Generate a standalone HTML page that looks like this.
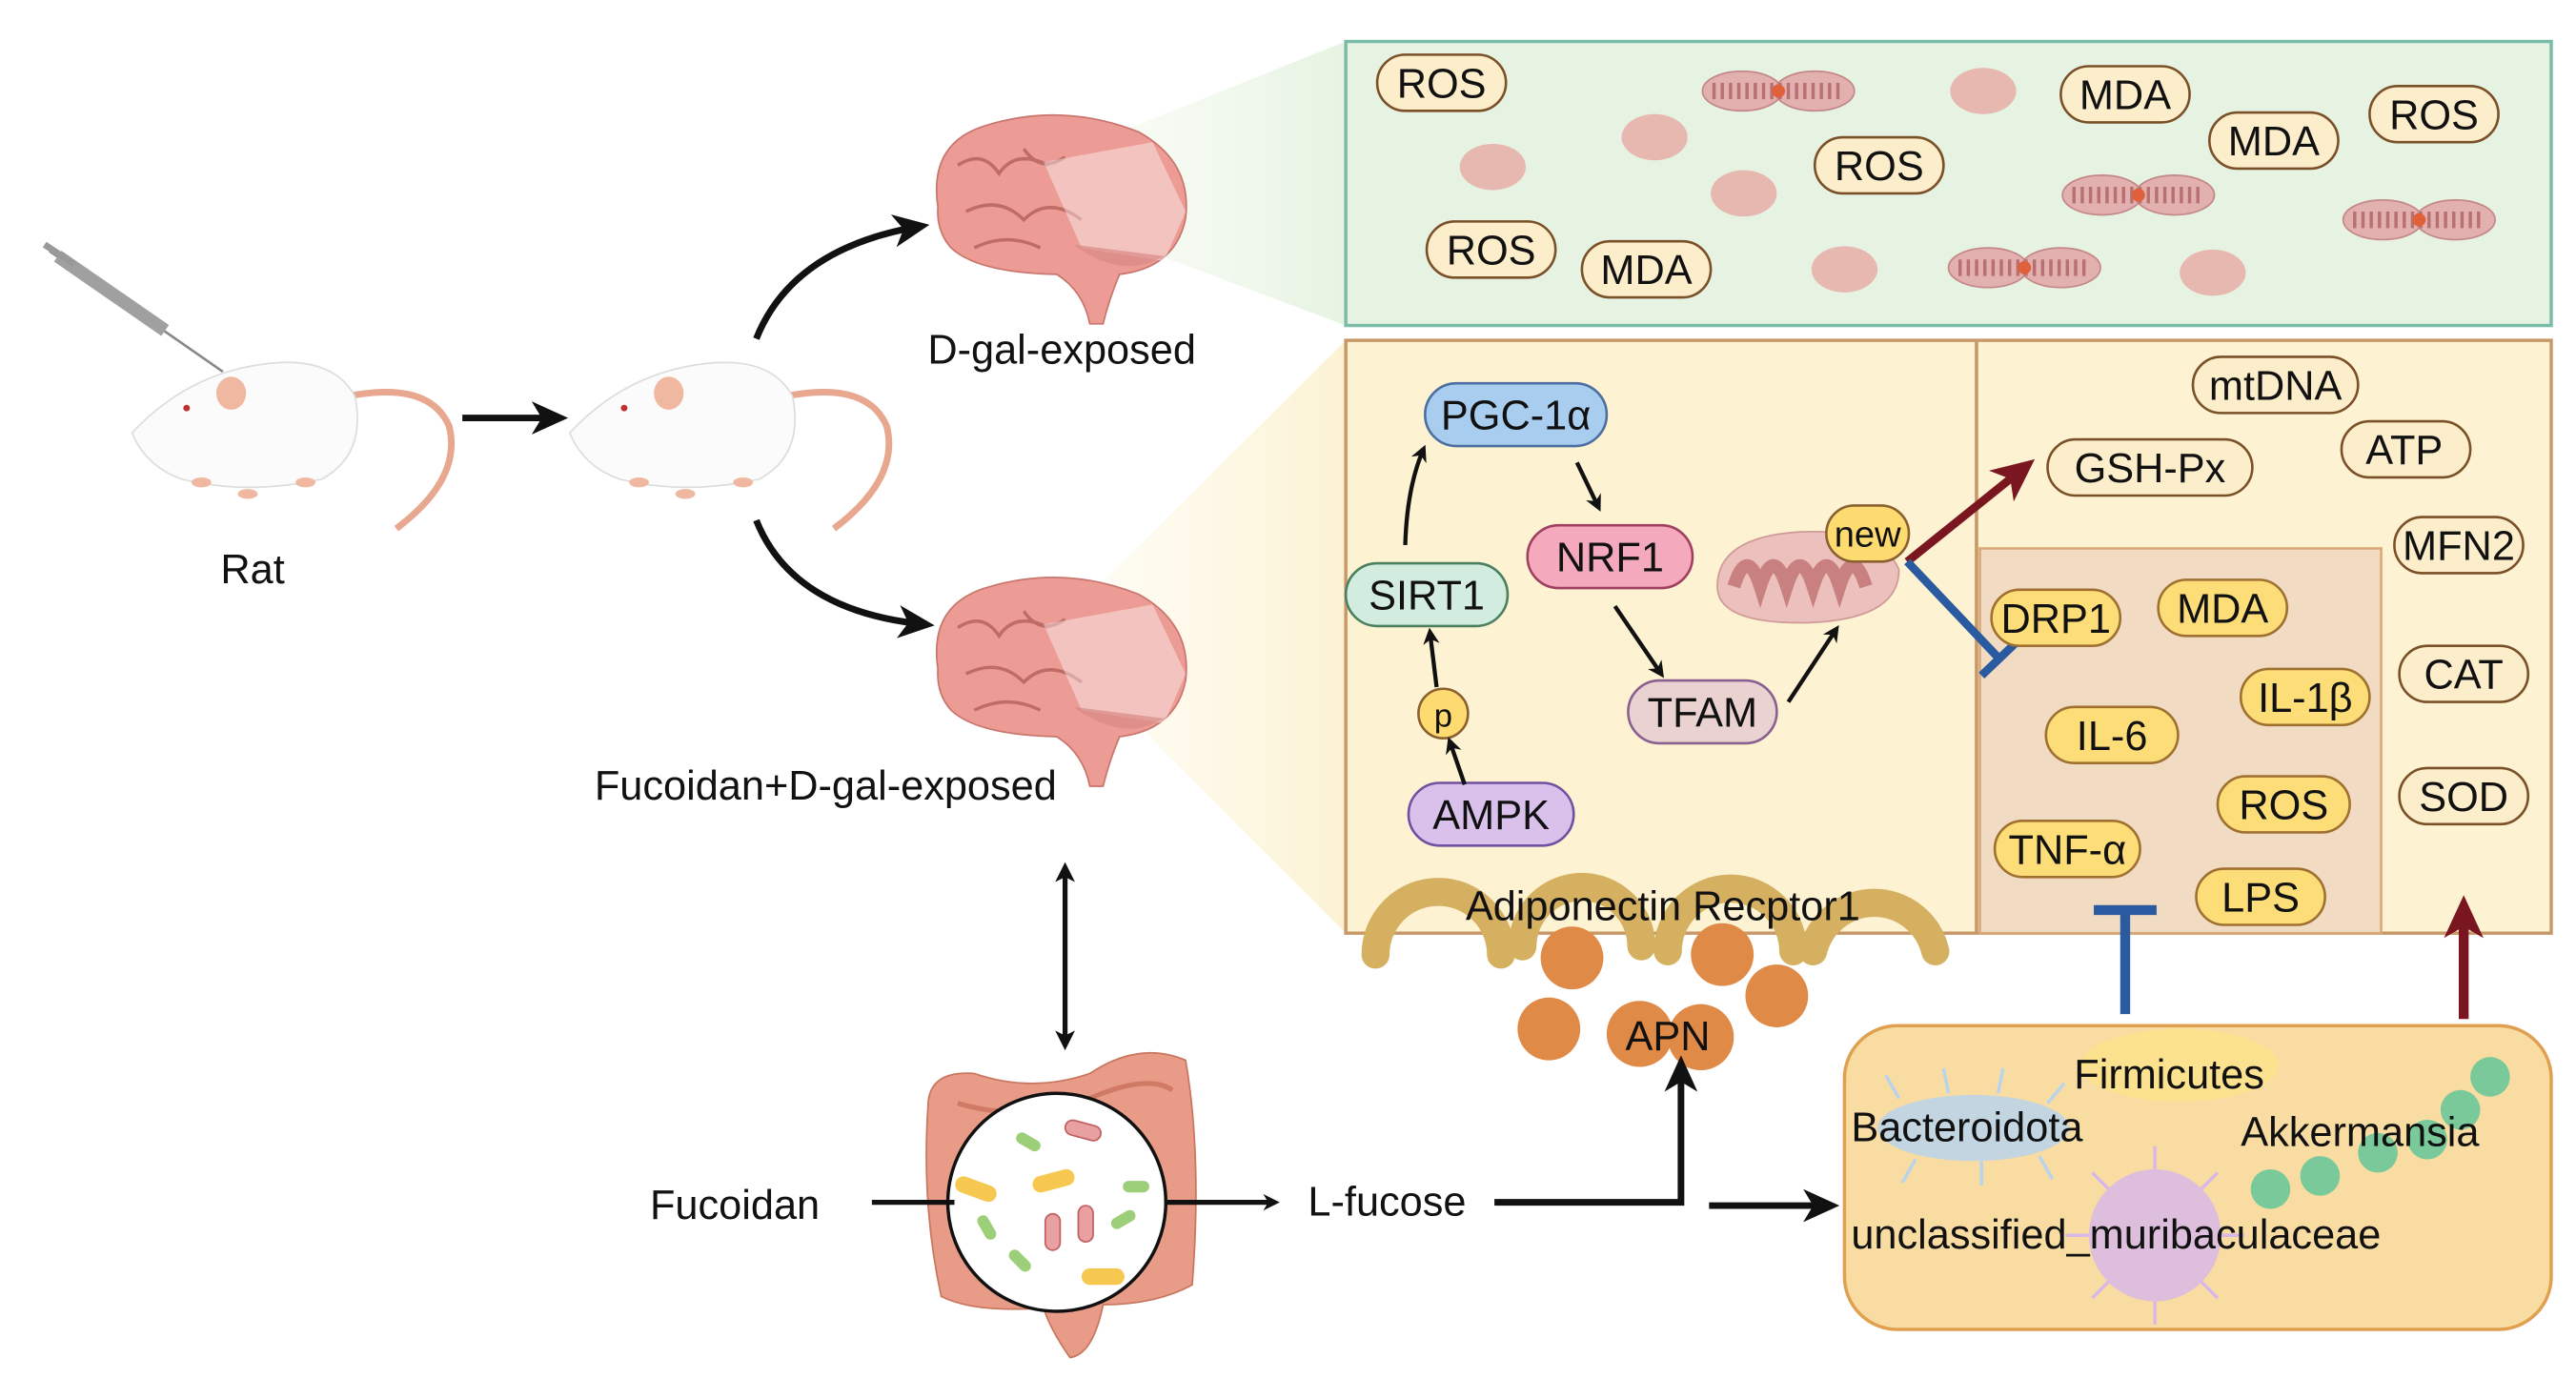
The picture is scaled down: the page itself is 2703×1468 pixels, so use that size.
<!DOCTYPE html>
<html><head><meta charset="utf-8"><style>
html,body{margin:0;padding:0;background:#fff}
svg{display:block}
text{font-family:"Liberation Sans",sans-serif;fill:#111}
</style></head><body>
<svg width="2703" height="1468" viewBox="0 0 1560 847" xmlns="http://www.w3.org/2000/svg">
<defs>
<marker id="ab" markerWidth="10" markerHeight="10" refX="7" refY="5" orient="auto" markerUnits="userSpaceOnUse"><path d="M0,0 L10,5 L0,10 L3,5 z" fill="#111"/></marker>
<marker id="abs" markerWidth="12" markerHeight="12" refX="6" refY="6" orient="auto-start-reverse" markerUnits="userSpaceOnUse"><path d="M0,0 L12,6 L0,12 L3,6 z" fill="#111"/></marker>
<marker id="abig" markerWidth="22" markerHeight="20" refX="16" refY="10" orient="auto" markerUnits="userSpaceOnUse"><path d="M0,0 L22,10 L0,20 L6,10 z" fill="#111"/></marker>
<marker id="ar" markerWidth="26" markerHeight="24" refX="18" refY="12" orient="auto" markerUnits="userSpaceOnUse"><path d="M0,0 L26,12 L0,24 L7,12 z" fill="#7a1620"/></marker>
<linearGradient id="gg" x1="0" x2="1"><stop offset="0" stop-color="#f3f9ec" stop-opacity="0.3"/><stop offset="1" stop-color="#e6f3e2"/></linearGradient>
<linearGradient id="gy" x1="0" x2="1"><stop offset="0" stop-color="#fdf8e6" stop-opacity="0.3"/><stop offset="1" stop-color="#fcf2d2"/></linearGradient>
<g id="mito"><ellipse cx="0" cy="0" rx="20" ry="14" fill="#e6b8b0"/></g>
<g id="mito2"><ellipse cx="-22" cy="0" rx="24" ry="12" fill="#e3b0b0" stroke="#c48888"/><ellipse cx="22" cy="0" rx="24" ry="12" fill="#e3b0b0" stroke="#c48888"/><path d="M-40,0 h80" stroke="#b87070" stroke-width="10" stroke-dasharray="2 3"/><circle cx="0" cy="0" r="4" fill="#e0603a"/></g>
</defs>

<polygon points="640,95 815,25 815,197 690,150" fill="url(#gg)"/>
<polygon points="640,380 815,206 815,565 700,450" fill="url(#gy)"/>

<rect x="815" y="25" width="730" height="172" fill="#e6f3e3" stroke="#79bca8" stroke-width="2"/>
<rect x="815" y="206" width="382" height="359" fill="#fdf2d2" stroke="#c89868" stroke-width="2"/>
<rect x="1197" y="206" width="348" height="359" fill="#fdf2d2" stroke="#c89868" stroke-width="2"/>
<rect x="1199" y="332" width="243" height="233" fill="#f1dcc3" stroke="#d9a878" stroke-width="1.5"/>
<rect x="1117" y="621" width="428" height="184" rx="32" fill="#f8dca2" stroke="#e0a050" stroke-width="2"/>

<use href="#mito" x="904" y="101"/><use href="#mito" x="1002" y="83"/><use href="#mito" x="1056" y="117"/>
<use href="#mito" x="1201" y="55"/><use href="#mito" x="1117" y="163"/><use href="#mito" x="1340" y="165"/>
<use href="#mito2" x="1077" y="55"/><use href="#mito2" x="1295" y="118"/><use href="#mito2" x="1226" y="162"/><use href="#mito2" x="1465" y="133"/>

<g stroke="#7a5028" stroke-width="1.5" fill="#fdeecb">
<rect x="834" y="33" width="78" height="34" rx="17"/>
<rect x="1248" y="40" width="78" height="34" rx="17"/>
<rect x="1338" y="68" width="78" height="34" rx="17"/>
<rect x="1435" y="52" width="78" height="34" rx="17"/>
<rect x="1099" y="83" width="78" height="34" rx="17"/>
<rect x="864" y="134" width="78" height="34" rx="17"/>
<rect x="958" y="146" width="78" height="34" rx="17"/>
</g>
<g font-size="25" text-anchor="middle">
<text x="873" y="59">ROS</text><text x="1287" y="66">MDA</text><text x="1377" y="94">MDA</text>
<text x="1474" y="78">ROS</text><text x="1138" y="109">ROS</text><text x="903" y="160">ROS</text><text x="997" y="172">MDA</text>
</g>

<rect x="863" y="232" width="110" height="38" rx="19" fill="#a9cdee" stroke="#4a6fa0" stroke-width="1.5"/>
<rect x="925" y="318" width="100" height="38" rx="19" fill="#f4a9bd" stroke="#a04060" stroke-width="1.5"/>
<rect x="815" y="341" width="98" height="38" rx="19" fill="#d2ece0" stroke="#4a8060" stroke-width="1.5"/>
<rect x="986" y="412" width="90" height="38" rx="19" fill="#ead2d0" stroke="#8a6090" stroke-width="1.5"/>
<rect x="853" y="474" width="100" height="38" rx="19" fill="#d9c1ec" stroke="#7050a0" stroke-width="1.5"/>
<circle cx="874" cy="432" r="15" fill="#fddb70" stroke="#8a6030" stroke-width="1.5"/>
<g font-size="25" text-anchor="middle">
<text x="918" y="260">PGC-1α</text><text x="975" y="346">NRF1</text><text x="864" y="369">SIRT1</text>
<text x="1031" y="440">TFAM</text><text x="903" y="502">AMPK</text><text x="874" y="440" font-size="20">p</text>
</g>
<g stroke="#111" stroke-width="2.5" fill="none" marker-end="url(#ab)">
<path d="M851,330 Q852,295 862,272"/>
<path d="M955,280 L968,307"/>
<path d="M978,367 L1006,408"/>
<path d="M1083,425 L1112,381"/>
<path d="M887,475 L878,449"/>
<path d="M870,416 L866,383"/>
</g>
<path d="M1040,355 Q1040,325 1090,322 Q1140,320 1150,345 Q1150,375 1095,377 Q1040,378 1040,355 z" fill="#ecc0bc" stroke="#d09a98"/>
<path d="M1050,355 q8,-25 16,0 q8,-25 16,0 q8,-25 16,0 q8,-25 16,0 q8,-25 16,0" stroke="#c88080" stroke-width="8" fill="none"/>
<rect x="1106" y="306" width="50" height="34" rx="17" fill="#fddb70" stroke="#8a6030" stroke-width="1.5"/>
<text x="1131" y="331" font-size="22" text-anchor="middle">new</text>
<path d="M1155,340 L1226,283" stroke="#7a1620" stroke-width="5" marker-end="url(#ar)"/>
<path d="M1155,340 L1210,398" stroke="#2a5aa0" stroke-width="5"/>
<path d="M1200,409 L1222,388" stroke="#2a5aa0" stroke-width="5"/>

<g stroke="#7a5028" stroke-width="1.5" fill="#fdeecb">
<rect x="1328" y="216" width="100" height="34" rx="17"/>
<rect x="1240" y="266" width="124" height="34" rx="17"/>
<rect x="1418" y="255" width="78" height="34" rx="17"/>
<rect x="1450" y="313" width="78" height="34" rx="17"/>
<rect x="1453" y="391" width="78" height="34" rx="17"/>
<rect x="1453" y="465" width="78" height="34" rx="17"/>
</g>
<g stroke="#a07030" stroke-width="1.5" fill="#fddd78">
<rect x="1206" y="357" width="78" height="34" rx="17"/>
<rect x="1307" y="351" width="78" height="34" rx="17"/>
<rect x="1357" y="405" width="78" height="34" rx="17"/>
<rect x="1239" y="428" width="80" height="34" rx="17"/>
<rect x="1343" y="470" width="80" height="34" rx="17"/>
<rect x="1208" y="497" width="88" height="34" rx="17"/>
<rect x="1330" y="526" width="78" height="34" rx="17"/>
</g>
<g font-size="25" text-anchor="middle">
<text x="1378" y="242">mtDNA</text><text x="1302" y="292">GSH-Px</text><text x="1456" y="281">ATP</text>
<text x="1489" y="339">MFN2</text><text x="1492" y="417">CAT</text><text x="1492" y="491">SOD</text>
<text x="1245" y="383">DRP1</text><text x="1346" y="377">MDA</text><text x="1396" y="431">IL-1β</text>
<text x="1279" y="454">IL-6</text><text x="1383" y="496">ROS</text><text x="1252" y="523">TNF-α</text><text x="1369" y="552">LPS</text>
</g>

<g stroke="#d4b060" stroke-width="17" fill="none" stroke-linecap="round">
<path d="M833,578 A38,38 0 0 1 909,578"/>
<path d="M922,573 A36,36 0 0 1 994,573"/>
<path d="M1010,576 A38,38 0 0 1 1086,576"/>
<path d="M1098,576 A38,38 0 0 1 1172,576"/>
</g>
<g fill="#e08a48">
<circle cx="952" cy="580" r="19"/><circle cx="1043" cy="578" r="19"/><circle cx="1076" cy="603" r="19"/>
<circle cx="938" cy="623" r="19"/><circle cx="993" cy="626" r="20"/><circle cx="1030" cy="628" r="20"/>
</g>
<text x="1007" y="557" font-size="25" text-anchor="middle">Adiponectin  Recptor1</text>
<text x="1010" y="636" font-size="25" text-anchor="middle">APN</text>

<path d="M1287,614 L1287,552 M1268,551 L1306,551" stroke="#2a5aa0" stroke-width="6"/>
<path d="M1492,617 L1492,550" stroke="#7a1620" stroke-width="6" marker-end="url(#ar)"/>

<ellipse cx="1320" cy="645" rx="60" ry="22" fill="#fde48a" opacity="0.8"/>
<ellipse cx="1195" cy="683" rx="58" ry="20" fill="#b8d4ec" opacity="0.85"/>
<g stroke="#b8d4ec" stroke-width="2"><path d="M1150,665 l-8,-14 M1180,662 l-3,-15 M1210,662 l3,-15 M1240,668 l10,-12 M1160,702 l-8,14 M1200,703 l0,15 M1235,700 l8,14"/></g>
<circle cx="1305" cy="748" r="40" fill="#d8b8e8" opacity="0.85"/>
<g stroke="#d8b8e8" stroke-width="2"><path d="M1305,708 v-14 M1345,748 h14 M1305,788 v14 M1265,748 h-14 M1333,720 l10,-10 M1277,776 l-10,10 M1333,776 l10,10 M1277,720 l-10,-10"/></g>
<g fill="#6cc79a" opacity="0.9">
<circle cx="1375" cy="720" r="12"/><circle cx="1405" cy="712" r="12"/><circle cx="1440" cy="698" r="12"/><circle cx="1470" cy="690" r="12"/><circle cx="1490" cy="672" r="12"/><circle cx="1508" cy="652" r="12"/>
</g>
<g font-size="25">
<text x="1256" y="659">Firmicutes</text><text x="1121" y="691">Bacteroidota</text>
<text x="1357" y="694">Akkermansia</text><text x="1121" y="756">unclassified_muribaculaceae</text>
</g>

<path d="M905,728 L1018,728 L1018,645" stroke="#111" stroke-width="4" fill="none" marker-end="url(#abig)"/>
<path d="M1035,730 L1108,730" stroke="#111" stroke-width="4" marker-end="url(#abig)"/>
<text x="840" y="736" font-size="25" text-anchor="middle">L-fucose</text>

<!-- intestine -->
<path d="M562,670 Q562,648 590,650 Q625,662 660,650 Q690,630 718,642 Q728,700 722,778 Q700,790 668,790 Q662,820 648,822 Q636,805 632,792 Q590,795 570,785 Q558,730 562,670 z" fill="#e89c88" stroke="#c8765e"/>
<path d="M580,668 Q620,680 660,665 Q695,650 710,660" stroke="#d07a66" stroke-width="3" fill="none"/>
<circle cx="640" cy="728" r="66" fill="#fff" stroke="#111" stroke-width="2"/>
<g fill="#9ccf78"><rect x="615" y="688" width="16" height="7" rx="3.5" transform="rotate(30 623 691)"/><rect x="590" y="740" width="16" height="7" rx="3.5" transform="rotate(60 598 743)"/><rect x="672" y="735" width="16" height="7" rx="3.5" transform="rotate(-30 680 738)"/><rect x="610" y="760" width="16" height="7" rx="3.5" transform="rotate(45 618 763)"/><rect x="680" y="715" width="16" height="7" rx="3.5"/></g>
<g fill="#f6c850"><rect x="578" y="715" width="26" height="10" rx="5" transform="rotate(20 591 720)"/><rect x="625" y="710" width="26" height="10" rx="5" transform="rotate(-15 638 715)"/><rect x="655" y="768" width="26" height="10" rx="5"/></g>
<g fill="#e8a0a0" stroke="#c06060"><rect x="645" y="680" width="22" height="9" rx="4.5" transform="rotate(15 656 684)"/><rect x="633" y="735" width="9" height="22" rx="4.5"/><rect x="653" y="730" width="9" height="22" rx="4.5"/></g>
<path d="M528,728 L578,728" stroke="#111" stroke-width="3"/>
<path d="M705,728 L772,728" stroke="#111" stroke-width="3" marker-end="url(#ab)"/>
<text x="445" y="738" font-size="25" text-anchor="middle">Fucoidan</text>

<path d="M645,528 L645,630" stroke="#111" stroke-width="3" marker-end="url(#abs)" marker-start="url(#abs)"/>

<!-- brains -->
<g id="brain">
<path d="M568,125 Q562,85 600,75 Q645,62 690,80 Q722,98 718,132 Q712,162 678,166 Q672,180 668,196 L660,196 Q656,176 640,166 Q592,165 576,150 Q567,140 568,125 z" fill="#ec9c94" stroke="#c8766e"/>
<path d="M580,100 q15,-10 25,5 q10,-15 30,-5 M585,128 q20,-10 35,5 q15,-15 35,0 M620,90 q10,15 25,5 M590,150 q20,-10 40,0" stroke="#c06c66" stroke-width="2" fill="none"/>
<path d="M632,98 L698,86 L718,128 L705,158 L655,150 z" fill="#fff" opacity="0.4"/>
<path d="M650,148 Q680,170 705,155" fill="#d88a84" opacity="0.7"/>
</g>
<use href="#brain" x="0" y="280"/>
<text x="643" y="220" font-size="25" text-anchor="middle">D-gal-exposed</text>
<text x="500" y="484" font-size="25" text-anchor="middle">Fucoidan+D-gal-exposed</text>

<path d="M458,205 Q480,150 557,137" stroke="#111" stroke-width="4" fill="none" marker-end="url(#abig)"/>
<path d="M458,315 Q480,370 560,378" stroke="#111" stroke-width="4" fill="none" marker-end="url(#abig)"/>

<g id="rat">
<path d="M210,240 Q260,230 272,258 Q280,290 240,320" stroke="#e8a890" stroke-width="4" fill="none"/>
<path d="M80,262 Q110,230 150,222 Q200,212 215,240 Q222,275 195,290 Q150,300 110,290 Q88,282 80,262 z" fill="#fbfbfb" stroke="#ddd"/>
<ellipse cx="140" cy="238" rx="9" ry="10" fill="#f0b8a0"/>
<circle cx="113" cy="247" r="2" fill="#c03030"/>
<g fill="#f0b8a0"><ellipse cx="122" cy="292" rx="6" ry="3"/><ellipse cx="150" cy="299" rx="6" ry="3"/><ellipse cx="185" cy="292" rx="6" ry="3"/></g>
</g>
<use href="#rat" x="265" y="0"/>
<path d="M30,152 L135,225" stroke="#888" stroke-width="1.5"/>
<path d="M35,155 L100,200" stroke="#a0a0a0" stroke-width="8"/>
<path d="M27,148 L45,160" stroke="#999" stroke-width="4"/>
<path d="M280,253 L338,253" stroke="#111" stroke-width="4" marker-end="url(#abig)"/>
<text x="153" y="353" font-size="25" text-anchor="middle">Rat</text>
</svg>
</body></html>
